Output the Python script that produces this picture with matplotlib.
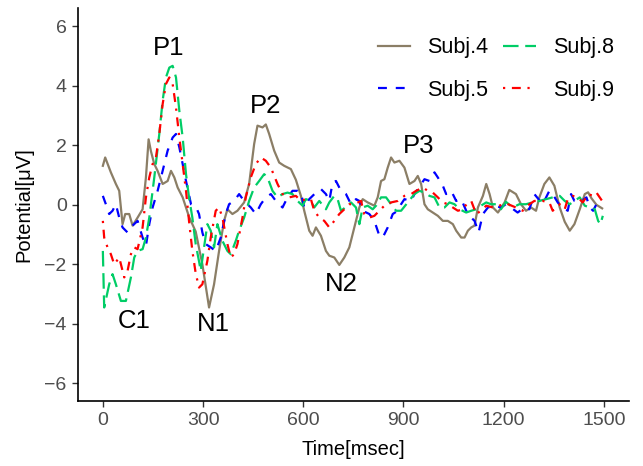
import numpy as np
import matplotlib
matplotlib.use("Agg")
import matplotlib.pyplot as plt

plt.rcParams["font.family"] = ["Liberation Sans", "DejaVu Sans"]

# ---------------------------------------------------------------- data
t4 = [0, 7, 24, 39, 49, 59, 67, 79, 89, 104, 119, 129, 137, 144, 154, 164, 179, 194, 204,
      214, 224, 239, 258, 278, 298, 318, 333, 348, 363, 373, 388, 403, 423, 438, 453, 463,
      478, 488, 498, 513, 528, 543, 563, 578, 593, 603, 618, 628, 638, 653, 668, 678, 693,
      708, 723, 738, 753, 768, 778, 793, 813, 823, 833, 843, 853, 863, 873, 888, 903, 918,
      933, 943, 953, 963, 973, 988, 1003, 1018, 1033, 1048, 1058, 1073, 1083, 1093, 1103,
      1113, 1123, 1138, 1148, 1158, 1168, 1183, 1203, 1217, 1237, 1252, 1267, 1282, 1297,
      1307, 1322, 1337, 1352, 1368, 1383, 1398, 1412, 1428, 1443, 1453, 1463, 1478, 1495]
v4 = [1.31, 1.59, 1.09, 0.7, 0.47, -0.65, -0.31, -0.31, -0.7, -0.43, -0.15, 0.92, 2.2, 1.8,
      1.37, 1.14, 0.7, 0.8, 1.14, 0.92, 0.58, 0.25, -0.4, -0.9, -2.0, -3.45, -2.67, -1.55,
      -0.54, -0.15, -0.31, -0.2, 0.08, 0.7, 2.04, 2.66, 2.6, 2.7, 2.38, 1.82, 1.42, 1.31,
      1.2, 0.84, 0.3, -0.2, -0.87, -1.04, -0.76, -1.04, -1.55, -1.71, -1.77, -2.02, -1.77,
      -1.43, -0.76, -0.09, 0.19, 0.08, -0.03, 0.25, 0.8, 0.86, 1.25, 1.59, 1.42, 1.48, 1.25,
      0.7, 0.8, 0.97, 0.7, 0.02, -0.15, -0.26, -0.37, -0.54, -0.54, -0.65, -0.87, -1.1,
      -1.1, -0.87, -0.76, -0.7, -0.09, 0.3, 0.7, 0.36, -0.09, -0.26, 0.08, 0.5, 0.36, 0.02,
      -0.2, -0.09, -0.2, 0.25, 0.7, 0.92, 0.64, -0.09, -0.57, -0.87, -0.65, -0.15, 0.36,
      0.42, 0.22, 0.0, -0.12]

t5 = [0, 9, 19, 29, 39, 49, 59, 74, 89, 104, 119, 129, 139, 149, 164, 179, 194, 209, 219,
      229, 239, 249, 264, 278, 288, 298, 308, 323, 338, 353, 368, 378, 393, 408, 423, 443,
      458, 473, 488, 503, 518, 538, 553, 568, 583, 593, 603, 618, 638, 653, 668, 678, 688,
      698, 713, 728, 743, 758, 768, 778, 798, 813, 828, 838, 853, 868, 883, 893, 903, 923,
      933, 963, 978, 993, 1003, 1018, 1028, 1043, 1058, 1073, 1088, 1103, 1113, 1125, 1138,
      1153, 1172, 1192, 1207, 1222, 1242, 1262, 1277, 1292, 1317, 1337, 1347, 1362, 1377,
      1392, 1402, 1412, 1428, 1448, 1458, 1468, 1478, 1495]
v5 = [0.3, 0.02, -0.31, -0.2, 0.02, -0.43, -0.76, -0.93, -0.7, -0.54, -1.1, -1.38, -0.65,
      -0.09, 0.47, 1.14, 1.82, 2.26, 2.38, 1.93, 1.37, 0.8, 0.02, -0.05, -0.31, -0.93, -1.32,
      -1.43, -1.55, -1.1, -0.31, 0.02, 0.13, 0.36, 0.13, -0.09, -0.31, 0.02, 0.25, 0.36,
      0.13, -0.09, 0.25, 0.47, 0.47, 0.41, -0.09, 0.19, 0.41, 0.53, 0.36, 0.13, 0.75, 0.8,
      0.47, 0.36, 0.02, 0.19, 0.13, -0.2, -0.31, -0.54, -1.04, -1.1, -0.76, -0.31, -0.2,
      0.02, 0.19, 0.13, 0.36, 0.86, 0.8, 1.09, 0.92, 0.64, 0.36, 0.47, 0.13, 0.19, -0.2,
      -0.43, -0.54, -0.93, -0.31, -0.09, -0.03, -0.09, 0.02, -0.09, -0.26, -0.09, -0.15,
      0.36, 0.02, 0.47, 0.36, 0.08, -0.09, -0.2, 0.36, 0.13, 0.08, 0.25, -0.09, -0.2, 0.02,
      0.02]

t8 = [0, 4, 19, 29, 39, 54, 69, 84, 94, 104, 119, 129, 139, 154, 169, 179, 189, 199, 209,
      219, 229, 239, 249, 258, 268, 278, 288, 293, 303, 313, 323, 333, 343, 358, 373, 383,
      398, 408, 423, 438, 453, 468, 483, 493, 508, 523, 538, 553, 568, 583, 598, 608, 623,
      633, 648, 668, 678, 693, 703, 713, 733, 743, 758, 768, 778, 793, 808, 818, 833, 848,
      863, 878, 893, 913, 933, 948, 963, 978, 993, 1008, 1023, 1038, 1053, 1068, 1088, 1103,
      1118, 1132, 1148, 1162, 1177, 1192, 1207, 1227, 1247, 1267, 1287, 1307, 1327, 1347,
      1368, 1383, 1398, 1412, 1428, 1443, 1458, 1473, 1483, 1490, 1497]
v8 = [-1.55, -3.45, -2.67, -2.33, -2.67, -3.23, -3.23, -2.44, -1.77, -1.55, -1.49, -1.1,
      -0.43, 0.92, 2.38, 3.5, 4.28, 4.61, 4.67, 4.28, 3.16, 2.26, 1.03, 0.25, -0.43, -1.32,
      -1.9, -2.22, -1.43, -0.65, -0.87, -1.43, -0.65, -1.21, -1.55, -1.66, -1.21, -0.87,
      -0.43, 0.13, 0.58, 0.8, 1.03, 0.92, 0.47, 0.25, 0.36, 0.41, 0.36, 0.13, -0.03, 0.19,
      0.13, -0.09, 0.13, -0.15, 0.08, 0.3, 0.19, -0.2, -0.03, 0.08, -0.09, -0.65, -0.09,
      -0.03, -0.15, -0.03, 0.25, 0.25, 0.02, -0.2, -0.2, 0.08, 0.36, 0.47, 0.41, 0.3, 0.25,
      -0.09, -0.09, 0.08, 0.02, -0.15, -0.26, -0.2, -0.15, -0.03, 0.08, 0.02, 0.02, -0.15,
      0.1, -0.09, 0.02, 0.02, 0.08, 0.13, 0.19, 0.25, 0.3, 0.13, 0.02, 0.13, 0.25, -0.03,
      -0.09, -0.15, -0.54, -0.65, -0.37]

t9 = [0, 4, 14, 24, 34, 49, 64, 74, 84, 94, 104, 119, 129, 139, 149, 159, 169, 179, 189,
      199, 209, 219, 229, 239, 249, 258, 268, 278, 288, 298, 313, 323, 338, 348, 358, 373,
      383, 393, 403, 418, 428, 443, 458, 473, 488, 503, 523, 538, 558, 578, 593, 608, 623,
      633, 648, 663, 678, 693, 708, 723, 738, 753, 773, 783, 798, 813, 828, 843, 863, 883,
      903, 923, 938, 958, 973, 988, 1003, 1018, 1033, 1063, 1078, 1093, 1103, 1118, 1132,
      1148, 1168, 1187, 1207, 1237, 1257, 1277, 1292, 1317, 1337, 1347, 1368, 1383, 1392,
      1407, 1422, 1437, 1453, 1468, 1478, 1495]
v9 = [-0.54, -1.1, -1.43, -1.66, -2.0, -1.77, -2.44, -2.22, -1.66, -1.43, -1.49, -0.76,
      0.25, 0.92, 1.37, 1.59, 2.38, 3.38, 4.06, 4.28, 4.06, 3.27, 2.26, 1.37, 0.47, -0.54,
      -1.55, -2.3, -2.78, -2.67, -1.88, -1.1, -0.2, -0.09, -0.43, -1.32, -1.77, -1.66, -1.32,
      -0.43, 0.25, 0.92, 1.37, 1.59, 1.48, 1.25, 0.7, 0.36, 0.25, 0.3, 0.13, 0.19, 0.19,
      -0.2, -0.43, -0.54, -0.76, -0.54, -0.31, -0.15, 0.02, 0.02, 0.13, -0.31, -0.43, -0.37,
      -0.2, -0.03, 0.08, 0.13, 0.3, 0.36, 0.47, 0.58, 0.47, 0.41, 0.25, 0.08, 0.02, -0.2,
      -0.15, 0.08, 0.13, -0.31, -0.2, -0.03, -0.09, -0.03, 0.05, -0.09, -0.2, 0.02, 0.13,
      0.13, 0.08, -0.2, 0.02, -0.15, 0.19, 0.3, 0.25, 0.08, 0.36, 0.3, 0.41, 0.13]

series = [
    ("Subj.4", t4, v4, "#8B7E66", "-"),
    ("Subj.5", t5, v5, "#0000FF", (0, (4, 4))),
    ("Subj.8", t8, v8, "#00CD66", (0, (7, 3))),
    ("Subj.9", t9, v9, "#FF0000", (0, (1, 3, 4, 3))),
]

peak_names = ["P1", "P2", "P3", "C1", "N1", "N2"]
peak_t = [198, 488, 946, 93, 332, 713]
peak_v = [5.28, 3.31, 1.98, -3.9, -4.0, -2.65]

# ---------------------------------------------------------------- plot
fig = plt.figure(figsize=(6.43, 4.66), dpi=100)
ax = fig.add_axes([0.121, 0.139, 0.857, 0.843])

for name, t, v, color, ls in series:
    ax.plot(t, v, color=color, linestyle=ls, linewidth=1.6, label=name)

for name, t, v in zip(peak_names, peak_t, peak_v):
    ax.text(t, v, name, ha="center", va="center", fontsize=18.5, color="black")

ax.set_xlim(-75, 1575)
ax.set_ylim(-6.6, 6.6)
ax.set_xticks([0, 300, 600, 900, 1200, 1500])
ax.set_yticks([-6, -4, -2, 0, 2, 4, 6])
ax.set_yticklabels(["\u22126", "\u22124", "\u22122", "0", "2", "4", "6"])
ax.tick_params(axis="both", colors="#333333", labelcolor="#4D4D4D", labelsize=14,
               length=4, width=1, pad=4)
for s in ["top", "right"]:
    ax.spines[s].set_visible(False)
for s in ["left", "bottom"]:
    ax.spines[s].set_linewidth(1.2)

ax.set_xlabel("Time[msec]", fontsize=14.5, labelpad=8)
ax.set_ylabel("Potential[\u03bcV]", fontsize=14.5, labelpad=8)

ax.legend(ncol=2, loc="upper right", bbox_to_anchor=(0.985, 0.962),
          bbox_transform=fig.transFigure, frameon=False,
          fontsize=15.5, handlelength=1.5, columnspacing=0.7, labelspacing=1.0,
          handletextpad=0.8)

fig.savefig("out.png", dpi=100)
